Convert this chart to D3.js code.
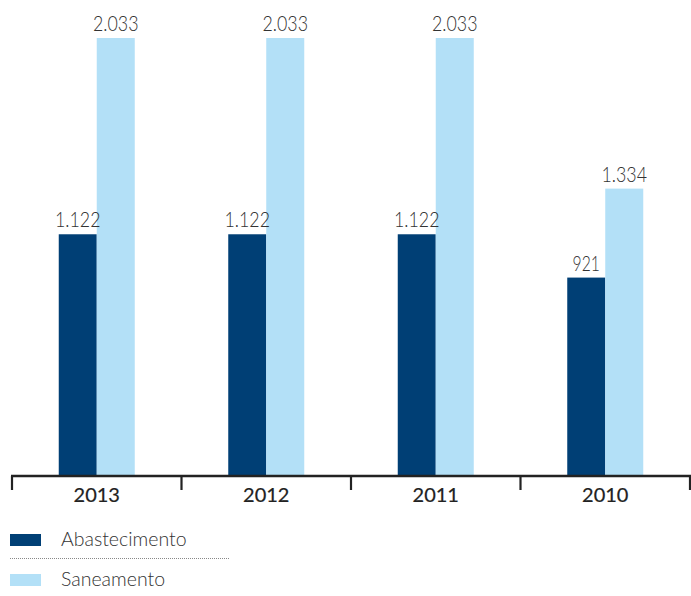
<!DOCTYPE html>
<html>
<head>
<meta charset="utf-8">
<script src="https://cdn.jsdelivr.net/npm/d3@7"></script>
<style>
  html, body { margin: 0; padding: 0; background: #fff; }
  svg { display: block; }
</style>
</head>
<body>
<svg id="chart" width="691" height="596"></svg>
<script>
// Yearly totals per service
const years = ["2013", "2012", "2011", "2010"];
const abastecimento = [1122, 1122, 1122, 921];
const saneamento = [2033, 2033, 2033, 1334];
const valueLabels = {
  abastecimento: ["1.122", "1.122", "1.122", "921"],
  saneamento: ["2.033", "2.033", "2.033", "1.334"]
};
const seriesNames = ["Abastecimento", "Saneamento"];
const colors = ["#003f75", "#b3e0f7"];

const svg = d3.select("#chart");
const baseY = 476;

const x = d3.scaleBand().domain(years).range([12, 690]).paddingInner(0).paddingOuter(0);
const y = d3.scaleLinear().domain([0, 2033]).range([baseY, 38]);
const barW = 38;

const rows = years.map((yr, i) => ({
  year: yr,
  values: [
    { key: 0, v: abastecimento[i], label: valueLabels.abastecimento[i] },
    { key: 1, v: saneamento[i], label: valueLabels.saneamento[i] }
  ]
}));

const groups = svg.selectAll("g.year").data(rows).join("g")
  .attr("class", "year")
  .attr("transform", d => `translate(${x(d.year) + x.bandwidth() / 2 - barW},0)`);

groups.selectAll("rect").data(d => d.values).join("rect")
  .attr("x", d => d.key * barW)
  .attr("y", d => y(d.v))
  .attr("width", barW)
  .attr("height", d => baseY - y(d.v))
  .attr("fill", d => colors[d.key]);

groups.selectAll("text.val").data(d => d.values).join("text")
  .attr("class", "val")
  .attr("x", d => d.key * barW + barW / 2)
  .attr("y", d => y(d.v) - 7)
  .attr("text-anchor", "middle")
  .attr("font-family", "Lato, sans-serif")
  .attr("font-weight", 300)
  .attr("font-size", 22)
  .attr("fill", "#333")
  .attr("textLength", d => d.label.length * 9.1)
  .attr("lengthAdjust", "spacingAndGlyphs")
  .text(d => d.label);

// Category axis
const axis = d3.axisBottom(x).tickSize(0).tickPadding(10);
const gAxis = svg.append("g").attr("transform", `translate(0,${baseY})`).call(axis);
gAxis.select(".domain").remove();
gAxis.append("line")
  .attr("x1", 11).attr("x2", 691)
  .attr("stroke", "#222").attr("stroke-width", 2.5);
const bounds = years.map(yv => x(yv)).concat([x.range()[1]]);
gAxis.selectAll("line.sep").data(bounds).join("line")
  .attr("class", "sep")
  .attr("x1", d => d).attr("x2", d => d)
  .attr("y1", 0).attr("y2", 14)
  .attr("stroke", "#222").attr("stroke-width", 2.2);
gAxis.selectAll(".tick text")
  .attr("font-family", "Lato, sans-serif")
  .attr("font-weight", 400)
  .attr("font-size", 20)
  .attr("fill", "#222")
  .attr("stroke", "#222")
  .attr("stroke-width", 0.2)
  .attr("dy", 0)
  .attr("y", 26);

// Legend
const legend = svg.append("g");
const legendY = [534, 574];
seriesNames.forEach((name, i) => {
  legend.append("rect")
    .attr("x", 10).attr("y", legendY[i])
    .attr("width", 31).attr("height", 12)
    .attr("fill", colors[i]);
  legend.append("text")
    .attr("x", 61).attr("y", legendY[i] + 12)
    .attr("font-family", "Lato, sans-serif")
    .attr("font-weight", 300)
    .attr("font-size", 19.5)
    .attr("fill", "#333")
    .text(name);
});
legend.append("line")
  .attr("x1", 10).attr("x2", 229)
  .attr("y1", 558.5).attr("y2", 558.5)
  .attr("stroke", "#888").attr("stroke-width", 1)
  .attr("stroke-dasharray", "1,1");
</script>
</body>
</html>
